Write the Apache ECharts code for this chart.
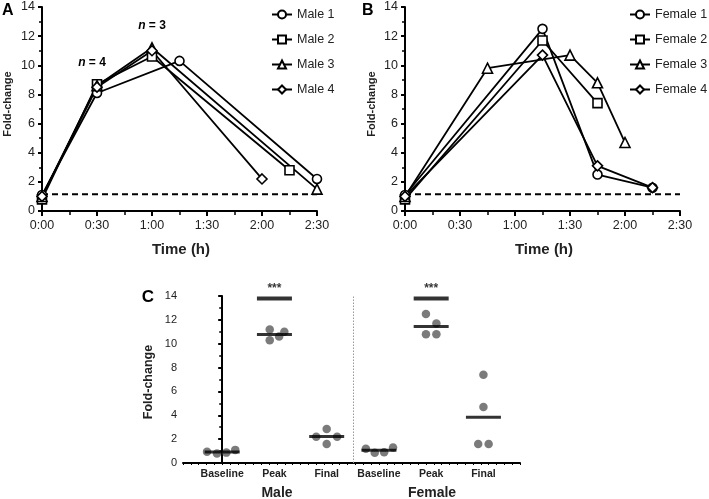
<!DOCTYPE html>
<html><head><meta charset="utf-8">
<script src="https://cdn.jsdelivr.net/npm/echarts@6/dist/echarts.min.js"></script>
<style>html,body{margin:0;padding:0;background:#fff}#c{width:709px;height:499px}</style>
</head><body><div id="c"></div>
<script>
// ---------- DATA ----------
// Panel A (minutes, fold-change)
const male1T = [0, 30, 75, 150],  male1 = [1.1, 8.1, 10.3, 2.2];
const male2T = [0, 30, 60, 135],  male2 = [0.8, 8.7, 10.6, 2.8];
const male3T = [0, 30, 60, 150],  male3 = [1.0, 8.6, 11.2, 1.5];
const male4T = [0, 30, 60, 120],  male4 = [1.0, 8.5, 11.0, 2.2];
// Panel B
const fem1T = [0, 75, 105, 135],      fem1 = [1.1, 12.5, 2.5, 1.6];
const fem2T = [0, 75, 105],           fem2 = [0.8, 11.7, 7.4];
const fem3T = [0, 45, 90, 105, 120],  fem3 = [1.0, 9.8, 10.7, 8.8, 4.7];
const fem4T = [0, 75, 105, 135],      fem4 = [1.0, 10.7, 3.1, 1.6];
const threshold = 1.15;
// Panel C
const categoriesC = ['Baseline', 'Peak', 'Final', 'Baseline', 'Peak', 'Final'];
const maleBase  = [0.95, 0.8, 0.87, 1.1];
const malePeak  = [11.2, 11.0, 10.3, 10.6];
const maleFinal = [2.2, 2.85, 2.2, 1.6];
const femBase   = [1.2, 0.85, 0.9, 1.3];
const femPeak   = [12.5, 11.7, 10.8, 10.8];
const femFinal  = [7.4, 4.7, 1.6, 1.6];
const sigLevel = 13.8;
const sigText = '***';

// ---------- LAYOUT / STYLE ----------
const jitter = [
  [-0.29, -0.1, 0.08, 0.25],
  [-0.09, 0.19, -0.09, 0.09],
  [-0.2, 0, 0.2, 0],
  [-0.25, -0.08, 0.1, 0.27],
  [-0.1, 0.1, -0.1, 0.1],
  [0, 0, -0.1, 0.1]
];
const groupsC = [maleBase, malePeak, maleFinal, femBase, femPeak, femFinal];
const FONT = 'Liberation Sans, Arial, sans-serif';
const TXT = '#222';
const diamond = 'path://M5,0L10,5L5,10L0,5Z';
const symbols = ['circle', 'rect', 'triangle', diamond];
const symSizes = [9, 9, 10, 10];

function fmtTime(v){ if (v % 30 !== 0) return ''; const h = Math.floor(v/60), m = v%60; return h + ':' + (m<10?'0':'') + m; }

function timeAxis(gi){
  return {
    type:'value', gridIndex:gi, min:0, max:150, interval:30,
    axisLine:{show:true, onZero:false, lineStyle:{color:'#000', width:2}},
    axisTick:{show:true, length:5, lineStyle:{color:'#000', width:2}},
    minorTick:{show:true, splitNumber:2, length:4, lineStyle:{color:'#000', width:1.5}},
    axisLabel:{color:TXT, fontSize:12.5, fontFamily:FONT, margin:8, formatter:fmtTime},
    splitLine:{show:false}
  };
}
function foldAxis(gi, fs, mg){
  return {
    type:'value', gridIndex:gi, min:0, max:14, interval:2,
    axisLine:{show:true, lineStyle:{color:'#000', width:2}},
    axisTick:{show:true, length:4, lineStyle:{color:'#000', width:2}},
    minorTick:{show:true, splitNumber:2, length:3, lineStyle:{color:'#000', width:1.5}},
    axisLabel:{color:TXT, fontSize:fs, fontFamily:FONT, margin:mg},
    splitLine:{show:false}
  };
}
function pairs(t, v){ return t.map((x,i)=>[x, v[i]]); }

const series = [];
function addLines(names, Ts, Vs, axisIdx){
  series.push({
    type:'line', xAxisIndex:axisIdx, yAxisIndex:axisIdx, silent:true, symbol:'none', z:1,
    data:[[0, threshold],[150, threshold]],
    lineStyle:{color:'#000', width:2, type:[6,4]}
  });
  names.forEach((n,i)=>{
    series.push({
      name:n, type:'line', xAxisIndex:axisIdx, yAxisIndex:axisIdx,
      data:pairs(Ts[i], Vs[i]), symbol:symbols[i], symbolSize:symSizes[i], symbolKeepAspect:true,
      showAllSymbol:true, z:3,
      lineStyle:{color:'#000', width:1.8},
      itemStyle:{color:'#fff', borderColor:'#000', borderWidth:1.6}
    });
  });
}
const maleNames = ['Male 1','Male 2','Male 3','Male 4'];
const femNames = ['Female 1','Female 2','Female 3','Female 4'];
addLines(maleNames, [male1T,male2T,male3T,male4T], [male1,male2,male3,male4], 0);
addLines(femNames, [fem1T,fem2T,fem3T,fem4T], [fem1,fem2,fem3,fem4], 1);

// Panel C
const dots = [];
groupsC.forEach((g,ci)=>g.forEach((v,k)=>dots.push([ci + jitter[ci][k], v])));
series.push({
  type:'scatter', xAxisIndex:2, yAxisIndex:2, data:dots, symbol:'circle', symbolSize:8.5,
  itemStyle:{color:'#5a5a5a'}, z:3
});
const means = groupsC.map((g,ci)=>[ci, g.reduce((a,b)=>a+b,0)/g.length]);
series.push({
  type:'scatter', xAxisIndex:2, yAxisIndex:2, data:means, symbol:'rect', symbolSize:[35,3],
  itemStyle:{color:'#000'}, z:4,
  markLine:{silent:true, symbol:'none', label:{show:false},
    lineStyle:{color:'#999', type:[1.5,1.5], width:1}, data:[{xAxis:2.5}]}
});
series.push({
  type:'scatter', xAxisIndex:2, yAxisIndex:2, data:[[1, sigLevel],[4, sigLevel]],
  symbol:'rect', symbolSize:[35,4], itemStyle:{color:'#000'}, z:4,
  label:{show:true, position:'top', distance:2, formatter:sigText, color:'#000',
    fontSize:12, fontWeight:'bold', fontFamily:FONT}
});

const legendCommon = {
  orient:'vertical', top:3, itemWidth:20, itemHeight:10, itemGap:12,
  textStyle:{color:TXT, fontSize:12.5, fontFamily:FONT}
};

const option = {
  animation:false,
  backgroundColor:'#fff',
  grid:[
    {left:42, top:7, width:275, height:204},
    {left:405, top:7, width:275, height:204},
    {left:183, top:296, width:337, height:167}
  ],
  xAxis:[
    timeAxis(0), timeAxis(1),
    {
      type:'value', gridIndex:2, min:-0.75, max:5.7, interval:0.15,
      axisLine:{show:true, onZero:false, lineStyle:{color:'#000', width:2}},
      axisTick:{show:true, length:2, lineStyle:{color:'#000', width:1}},
      axisLabel:{color:TXT, fontSize:10.5, fontWeight:'bold', fontFamily:FONT, margin:6,
        customValues:[0,1,2,3,4,5], formatter:(v)=>categoriesC[Math.round(v)]},
      splitLine:{show:false}
    }
  ],
  yAxis:[foldAxis(0,12.5,7), foldAxis(1,12.5,7), foldAxis(2,11,6)],
  legend:[
    Object.assign({}, legendCommon, {left:266, data:maleNames}),
    Object.assign({}, legendCommon, {left:624, data:femNames})
  ],
  graphic:[
    {type:'text', left:2, top:3, style:{text:'A', font:'bold 16px '+FONT, fill:'#000'}},
    {type:'text', left:362, top:3, style:{text:'B', font:'bold 16px '+FONT, fill:'#000'}},
    {type:'text', x:148, y:297, style:{text:'C', font:'bold 17px '+FONT, fill:'#000', align:'center', verticalAlign:'middle'}},
    {type:'text', x:8, y:104, rotation:Math.PI/2, style:{text:'Fold-change', font:'bold 11px '+FONT, fill:TXT, align:'center', verticalAlign:'middle'}},
    {type:'text', x:372, y:104, rotation:Math.PI/2, style:{text:'Fold-change', font:'bold 11px '+FONT, fill:TXT, align:'center', verticalAlign:'middle'}},
    {type:'text', x:149, y:382, rotation:Math.PI/2, style:{text:'Fold-change', font:'bold 12.5px '+FONT, fill:TXT, align:'center', verticalAlign:'middle'}},
    {type:'text', x:181, y:250, style:{text:'Time (h)', font:'bold 15px '+FONT, fill:TXT, align:'center', verticalAlign:'middle'}},
    {type:'text', x:544, y:250, style:{text:'Time (h)', font:'bold 15px '+FONT, fill:TXT, align:'center', verticalAlign:'middle'}},
    {type:'text', x:277, y:493, style:{text:'Male', font:'bold 14px '+FONT, fill:TXT, align:'center', verticalAlign:'middle'}},
    {type:'text', x:432, y:493, style:{text:'Female', font:'bold 14px '+FONT, fill:TXT, align:'center', verticalAlign:'middle'}},
    {type:'text', x:92, y:63, style:{text:'{i|n} = 4', align:'center', verticalAlign:'middle',
      font:'bold 12px '+FONT, fill:'#000', rich:{i:{fontStyle:'italic', fontWeight:'bold', fontSize:12, fontFamily:FONT, fill:'#000'}}}},
    {type:'text', x:152, y:26, style:{text:'{i|n} = 3', align:'center', verticalAlign:'middle',
      font:'bold 12px '+FONT, fill:'#000', rich:{i:{fontStyle:'italic', fontWeight:'bold', fontSize:12, fontFamily:FONT, fill:'#000'}}}}
  ],
  series:series
};
const chart = echarts.init(document.getElementById('c'), null, {renderer:'canvas'});
chart.setOption(option);
</script>
</body></html>
